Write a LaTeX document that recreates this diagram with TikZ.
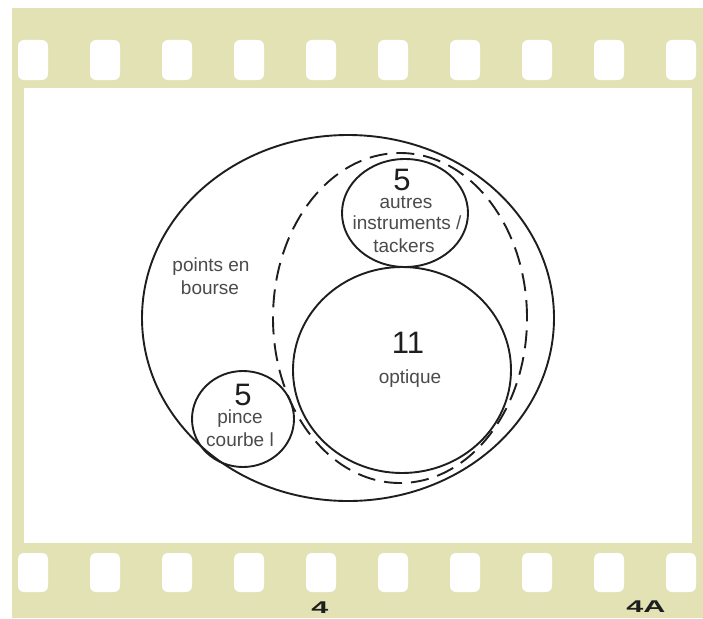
\documentclass[tikz,border=0pt]{standalone}
\usepackage{fontspec}
\usepackage{graphicx}
\setmainfont{Liberation Sans}
\definecolor{film}{RGB}{227,226,181}
\definecolor{ink}{RGB}{30,30,30}
\definecolor{lbltext}{RGB}{75,75,75}
\begin{document}
\begin{tikzpicture}[x=1pt,y=-1pt,
  hole/.style={fill=white,rounded corners=6pt},
  solidring/.style={draw=ink,line width=1.9pt},
  dashring/.style={draw=ink,line width=1.9pt,dash pattern=on 18pt off 9pt},
  lbl/.style={text=lbltext,font=\fontsize{19}{21.5}\selectfont,inner sep=0pt,anchor=base},
  num/.style={text=ink,font=\fontsize{31}{31}\selectfont,inner sep=0pt,anchor=base},
  frameno/.style={text=ink,font=\fontsize{17}{17}\selectfont\bfseries,inner sep=0pt,anchor=base}]
\useasboundingbox (0,0) rectangle (703,618);
\fill[white] (0,0) rectangle (703,618);
\fill[film] (12,8) rectangle (703,618);
\fill[white] (24,88) rectangle (692,543);
\foreach \i in {0,...,9} {
  \fill[hole] ({18+72*\i},40) rectangle ++(30,40);
  \fill[hole] ({18+72*\i},553) rectangle ++(30,39);
}
% sets
\draw[solidring] (348,318) ellipse [x radius=206pt, y radius=183pt];
\draw[dashring] (400,318) ellipse [x radius=127pt, y radius=165pt];
\draw[solidring] (402,370) ellipse [x radius=109pt, y radius=103pt];
\draw[solidring] (405,213) ellipse [x radius=63pt, y radius=54pt];
\draw[solidring] (243,419) ellipse [x radius=51pt, y radius=48pt];
% texts
\node[lbl] (pe1) at (211,271) {points en};
\node[lbl] (pe2) at (210,294) {bourse};
\node[num] (n5a) at (402,190) {5};
\node[lbl] (ai1) at (406,208) {autres};
\node[lbl] (ai2) at (407,229) {instruments /};
\node[lbl] (ai3) at (404,252) {tackers};
\node[num] (n11) at (408,353) {11};
\node[lbl] (op) at (410,383) {optique};
\node[num] (n5b) at (243,405) {5};
\node[lbl] (pc1) at (240,423) {pince};
\node[lbl] (pc2) at (240,446) {courbe l};
\node[frameno] (f4) at (320,613) {\scalebox{1.8}[1]{4}};
\node[frameno] (f4a) at (646,612) {\scalebox{1.8}[1]{4A}};
\end{tikzpicture}
\end{document}
